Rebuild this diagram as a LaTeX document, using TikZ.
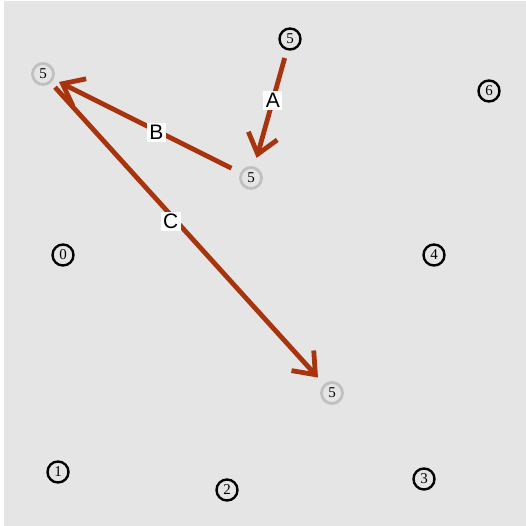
\documentclass[tikz,border=0pt]{standalone}
\usepackage{fontspec}
\setmainfont{Liberation Serif}
\newfontfamily\labfont{Liberation Sans}
\usetikzlibrary{arrows.meta}
\definecolor{bgc}{RGB}{229,229,229}
\definecolor{arr}{RGB}{168,52,14}
\definecolor{ghost}{RGB}{192,192,192}
\begin{document}
\begin{tikzpicture}[x=1pt,y=-1pt,
  state/.style={circle,draw=black,line width=2.4pt,minimum size=21pt,inner sep=0pt,font=\fontsize{15}{15}\selectfont},
  ghoststate/.style={state,draw=ghost,line width=2.8pt},
  move/.style={draw=arr,line width=4.8pt,-{Straight Barb[length=19pt,width=30pt]}},
  lab/.style={fill=white,inner sep=2.5pt,font=\labfont\fontsize{21}{21}\selectfont,text=black}]
\useasboundingbox (0,0) rectangle (526,526);
\fill[bgc] (4,1) rectangle (526,526);
\node[state] (s5) at (290,39) {5};
\node[state] (s6) at (489,91) {6};
\node[state] (s0) at (63,255) {0};
\node[state] (s4) at (434,255) {4};
\node[state] (s1) at (58,472) {1};
\node[state] (s2) at (227,490) {2};
\node[state] (s3) at (424,479) {3};
\node[ghoststate] (g1) at (43,74) {5};
\node[ghoststate] (g2) at (251,178) {5};
\node[ghoststate] (g3) at (332,393) {5};
\draw[move,shorten <=8pt,shorten >=9pt] (s5) -- node[lab,pos=0.43] {A} (g2);
\draw[move,shorten <=10pt,shorten >=6pt] (g2) -- node[lab,pos=0.45,yshift=-2pt] {B} (g1);
\draw[move,shorten <=6pt,shorten >=9pt] (g1) -- node[lab,pos=0.46,xshift=-6pt] {C} (g3);
\end{tikzpicture}
\end{document}
